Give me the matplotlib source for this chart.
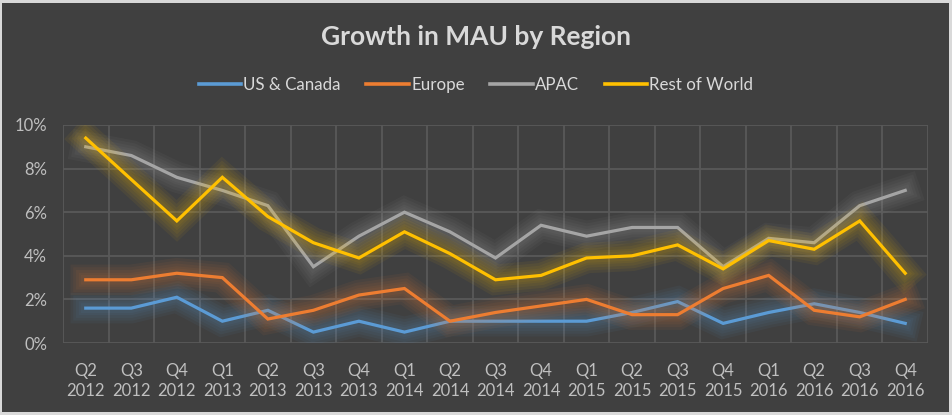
import matplotlib.pyplot as plt
import matplotlib.patheffects as pe
from matplotlib.lines import Line2D
from matplotlib.patches import Rectangle
from matplotlib.ticker import FuncFormatter, MultipleLocator

quarters = ['Q2\n2012', 'Q3\n2012', 'Q4\n2012', 'Q1\n2013', 'Q2\n2013', 'Q3\n2013', 'Q4\n2013',
            'Q1\n2014', 'Q2\n2014', 'Q3\n2014', 'Q4\n2014', 'Q1\n2015', 'Q2\n2015', 'Q3\n2015',
            'Q4\n2015', 'Q1\n2016', 'Q2\n2016', 'Q3\n2016', 'Q4\n2016']

us_canada = [1.6, 1.6, 2.1, 1.0, 1.5, 0.5, 1.0, 0.5, 1.0, 1.0, 1.0, 1.0, 1.4, 1.9, 0.9, 1.4, 1.8, 1.4, 0.9]
europe = [2.9, 2.9, 3.2, 3.0, 1.1, 1.5, 2.2, 2.5, 1.0, 1.4, 1.7, 2.0, 1.3, 1.3, 2.5, 3.1, 1.5, 1.2, 2.0]
apac = [9.0, 8.6, 7.6, 7.0, 6.3, 3.5, 4.9, 6.0, 5.1, 3.9, 5.4, 4.9, 5.3, 5.3, 3.5, 4.8, 4.6, 6.3, 7.0]
rest_of_world = [9.4, 7.5, 5.6, 7.6, 5.8, 4.6, 3.9, 5.1, 4.1, 2.9, 3.1, 3.9, 4.0, 4.5, 3.4, 4.7, 4.3, 5.6, 3.2]

series = [
    ('US & Canada', us_canada, '#5B9BD5'),
    ('Europe', europe, '#ED7D31'),
    ('APAC', apac, '#A5A5A5'),
    ('Rest of World', rest_of_world, '#FFC000'),
]

plt.rcParams['font.family'] = ['Lato', 'DejaVu Sans']

bg = '#404040'
text_col = '#BFBFBF'

fig = plt.figure(figsize=(9.52, 4.15), dpi=100, facecolor='#D9D9D9')
fig.patches.append(Rectangle((2 / 952, 3 / 415), 947 / 952, 409 / 415, transform=fig.transFigure,
                             facecolor=bg, edgecolor='none', zorder=-1))

ax = fig.add_axes([63 / 952, 1 - 343 / 415, 865 / 952, 218 / 415])
ax.set_facecolor(bg)

x = list(range(len(quarters)))
handles = []
for name, vals, color in series:
    # soft glow around each line
    glow = [pe.Stroke(linewidth=w, foreground=color, alpha=0.06) for w in (22, 18, 14, 10, 7)]
    ax.plot(x, vals, color=color, linewidth=2.3, solid_joinstyle='miter',
            path_effects=glow + [pe.Normal()])
    handles.append(Line2D([], [], color=color, linewidth=2.6, label=name))

ax.set_xlim(-0.5, len(quarters) - 0.5)
ax.set_ylim(0, 10)
ax.yaxis.set_major_locator(MultipleLocator(2))
ax.yaxis.set_major_formatter(FuncFormatter(lambda v, p: f'{v:.0f}%'))
ax.set_xticks(x)
ax.set_xticklabels(quarters, linespacing=1.3)
ax.set_xticks([i - 0.5 for i in range(len(quarters) + 1)], minor=True)

ax.grid(True, which='major', axis='y', color='#595959', linewidth=1.3)
ax.grid(True, which='minor', axis='x', color='#595959', linewidth=1.3)
ax.set_axisbelow(True)
for s in ax.spines.values():
    s.set_visible(False)
ax.tick_params(which='both', length=0)
ax.tick_params(axis='x', colors=text_col, labelsize=12, pad=14.5)
ax.tick_params(axis='y', colors=text_col, labelsize=12, pad=11.5)

fig.text(0.5, 1 - 37 / 415, 'Growth in MAU by Region', ha='center', va='center',
         fontsize=19, fontweight='bold', color='#D9D9D9')

fig.legend(handles=handles, loc='center', bbox_to_anchor=(0.5, 1 - 85 / 415), ncol=4,
           frameon=False, fontsize=12.2, labelcolor='#D9D9D9', handlelength=2.5,
           handletextpad=0.15, columnspacing=1.5)

fig.savefig('out.png', dpi=100, facecolor=fig.get_facecolor())
